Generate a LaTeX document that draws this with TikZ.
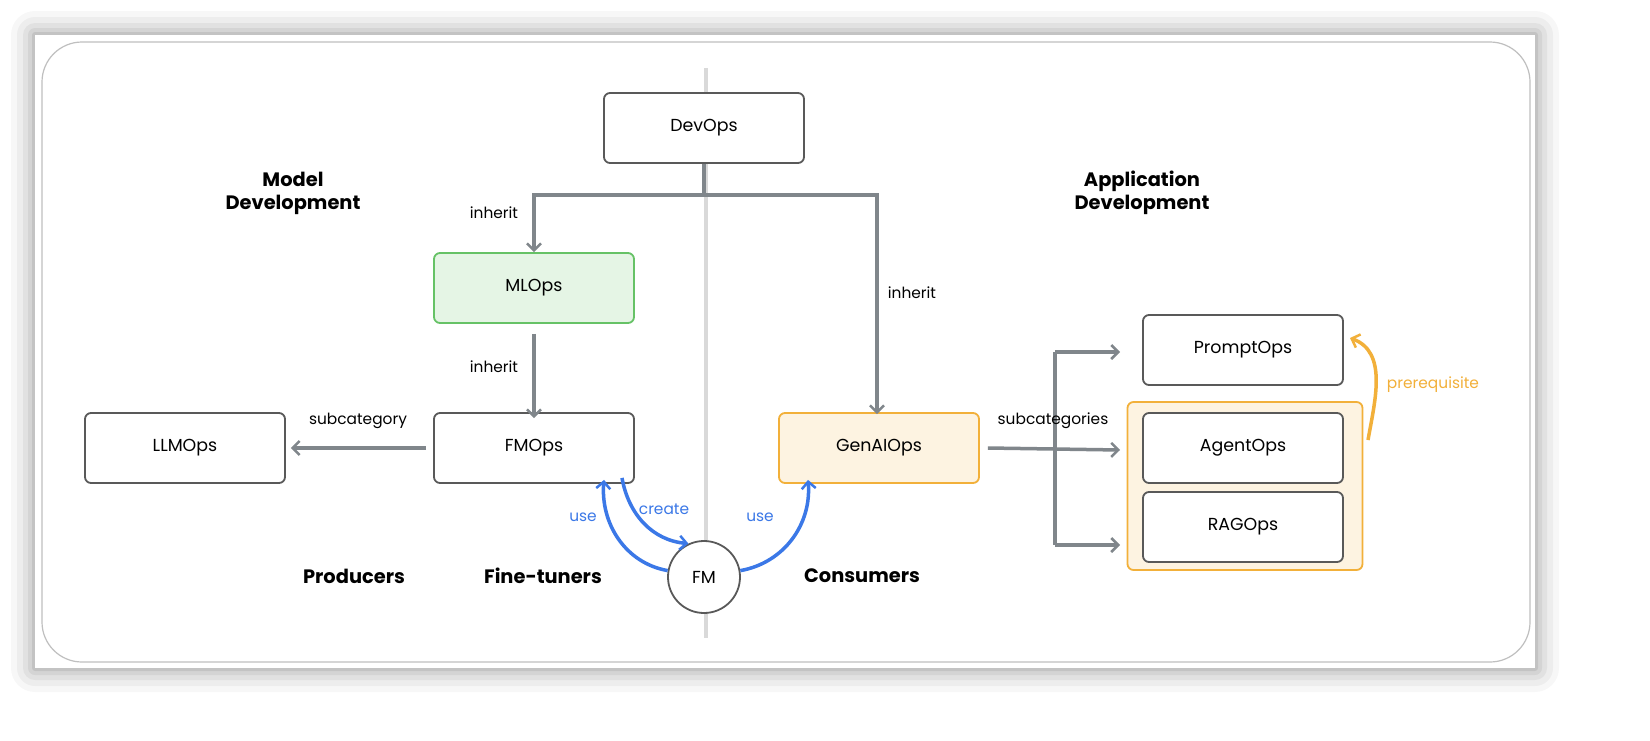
\documentclass[tikz,border=0pt]{standalone}
\usepackage{fontspec}
\setmainfont{Poppins}
\usetikzlibrary{arrows.meta}
\definecolor{ag}{HTML}{80868B}
\definecolor{bl}{HTML}{3B78E7}
\definecolor{og}{HTML}{F2B03A}
\begin{document}
\begin{tikzpicture}[x=0.5pt,y=-0.5pt,
 box/.style={draw=black!65,line width=0.9pt,rounded corners=3pt,minimum width=100pt,minimum height=35pt,font=\fontsize{8.7}{10}\selectfont,fill=white},
 tip/.style={-{Straight Barb[length=3.5pt,width=7pt,line width=1.25pt]}},
 arr/.style={draw=ag,line width=1.75pt,tip},
 ln/.style={draw=ag,line width=1.75pt},
 barr/.style={draw=bl,line width=1.75pt,tip},
 lbl/.style={font=\fontsize{7.7}{9}\selectfont},
 head/.style={font=\bfseries\fontsize{9.7}{11.5}\selectfont,align=center}]
\path[use as bounding box] (0,0) rectangle (1650,740);
\foreach \d/\o in {24/0.03,18/0.04,12/0.05,7/0.06,3/0.08}{
  \fill[black,opacity=\o,rounded corners=\d*0.5pt] (35-\d,35-\d) rectangle (1535+\d,668+\d);}
\fill[white] (35,35) rectangle (1535,668);
\draw[black!25,line width=0.6pt,rounded corners=20pt] (42,42) rectangle (1530,662);
\draw[black!15,line width=2pt] (706,68) -- (706,638);
% nodes
\node[box] (dev) at (704,128) {DevOps};
\node[box,fill=green!60!black!10,draw=green!60!black!60] (ml) at (534,288) {MLOps};
\node[box] (fm) at (534,448) {FMOps};
\node[box] (llm) at (185,448) {LLMOps};
\node[draw=og,line width=0.9pt,rounded corners=3pt,fill=og!15,minimum width=117.5pt,minimum height=84pt] (grp) at (1245,486) {};
\node[box,fill=og!15,draw=og] (gen) at (879,448) {GenAIOps};
\node[box] (prompt) at (1243,350) {PromptOps};
\node[box] (agent) at (1243,448) {AgentOps};
\node[box] (rag) at (1243,527) {RAGOps};
\node[circle,draw=black!65,line width=0.9pt,fill=white,minimum size=36pt,font=\fontsize{8.7}{10}\selectfont] (fmc) at (704,577) {FM};
% headings
\node[head] (h1) at (293,193) {Model\\Development};
\node[head] (h2) at (1142,193) {Application\\Development};
\node[head] (p1) at (354,576) {Producers};
\node[head] (p2) at (543,576) {Fine-tuners};
\node[head] (p3) at (862,576) {Consumers};
% connectors
\coordinate (j) at (704,195);
\draw[ln] (dev.south) -- (j);
\draw[arr] (j) -| (ml.north);
\draw[arr] (j) -| ([xshift=-1pt,yshift=-1pt]gen.north);
\node[lbl] (l1) at (494,213) {inherit};
\node[lbl] (l2) at (912,293) {inherit};
\draw[arr] ([yshift=-5pt]ml.south) -- ([yshift=-3pt]fm.north);
\node[lbl] (l3) at (494,367) {inherit};
\draw[arr] ([xshift=-3.5pt]fm.west) -- ([xshift=2.5pt]llm.east);
\node[lbl] (l4) at (358,421) {subcategory};
\coordinate (v1) at (1055,352);
\coordinate (v2) at (1055,545);
\draw[ln] (v1) -- (v2);
\draw[arr] (v1) -- (1120,352);
\draw[arr] (v2) -- (1120,545);
\draw[arr] ([xshift=4pt]gen.east) -- (1120,450);
\node[lbl] (l5) at (1053,421) {subcategories};
\draw[draw=og,line width=1.75pt,tip] (1368,440) to[out=80,in=-20] (1350,338);
\node[lbl,text=og] (l6) at (1433,385) {prerequisite};
% blue
\draw[barr] (fmc.170) to[out=170,in=-95] ([xshift=35pt,yshift=2pt]fm.south);
\draw[barr] ([xshift=44pt,yshift=3pt]fm.south) to[out=-80,in=175] (fmc.115);
\draw[barr] (fmc.10) to[out=10,in=-85] ([xshift=-35.5pt,yshift=2pt]gen.south);
\node[lbl,text=bl] (u1) at (583,517) {use};
\node[lbl,text=bl] (c1) at (664,509) {create};
\node[lbl,text=bl] (u2) at (760,517) {use};
\end{tikzpicture}
\end{document}
